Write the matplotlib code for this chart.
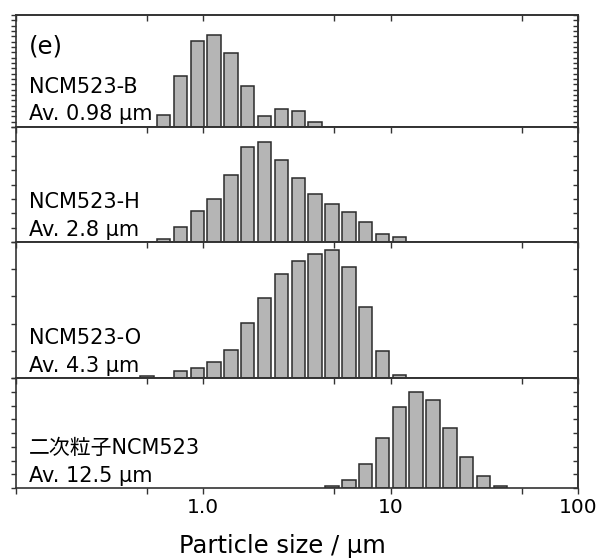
import numpy as np
import matplotlib.pyplot as plt

plt.rcParams['font.family'] = ['DejaVu Sans', 'Noto Sans CJK JP']

# bin centres (um), shared by all four distributions
sizes = [0.50, 0.613, 0.754, 0.928, 1.141, 1.403, 1.726, 2.123, 2.612, 3.212, 3.951,
         4.859, 5.977, 7.352, 9.043, 11.12, 13.68, 16.83, 20.70, 25.46, 31.31, 38.51]

# frequency (%) per bin
freq_b = [0, 2.9, 12.7, 21.5, 22.9, 18.6, 10.2, 2.7, 4.4, 3.9, 1.3,
          0, 0, 0, 0, 0, 0, 0, 0, 0, 0, 0]
freq_h = [0, 0.5, 2.3, 4.8, 6.7, 10.5, 14.8, 15.7, 12.8, 10.0, 7.5,
          5.9, 4.7, 3.1, 1.2, 0.8, 0, 0, 0, 0, 0, 0]
freq_o = [0.23, 0, 0.72, 1.14, 1.79, 3.09, 6.09, 8.79, 11.46, 12.95, 13.67,
          14.13, 12.26, 7.85, 3.0, 0.3, 0, 0, 0, 0, 0, 0]
freq_s = [0, 0, 0, 0, 0, 0, 0, 0, 0, 0, 0,
          0.36, 1.66, 5.23, 10.9, 17.6, 21.0, 19.2, 13.1, 6.74, 2.54, 0.5]

names = ['NCM523-B', 'NCM523-H', 'NCM523-O', '二次粒子NCM523']
averages = ['Av. 0.98 µm', 'Av. 2.8 µm', 'Av. 4.3 µm', 'Av. 12.5 µm']
series = [freq_b, freq_h, freq_o, freq_s]
ymax = [28, 18, 15, 24]
nticks = [21, 8, 5, 8]

# panel edges in pixels (top, bottom)
W, H = 605, 558
tops = [15, 127, 242, 378]
bots = [127, 242, 378, 488]
x0, x1 = 16, 578

sizes = np.array(sizes)
step = np.diff(np.log10(sizes)).mean()
left = sizes * 10 ** (-0.4 * step)
width = sizes * 10 ** (0.4 * step) - left

fig = plt.figure(figsize=(W / 100, H / 100), dpi=100)
spine_c = '#333333'

for i in range(4):
    ax = fig.add_axes([x0 / W, 1 - bots[i] / H, (x1 - x0) / W, (bots[i] - tops[i]) / H])
    ax.set_xscale('log')
    ax.set_xlim(0.1, 100)
    ax.set_ylim(0, ymax[i])

    f = np.array(series[i])
    m = f > 0
    ax.bar(left[m], f[m], width=width[m], align='edge', color='#b5b5b5',
           edgecolor='#2b2b2b', linewidth=1.1, zorder=2)

    for s in ax.spines.values():
        s.set_color(spine_c)
        s.set_linewidth(1.2)

    yt = np.linspace(0, ymax[i], nticks[i] + 1)
    ax.set_yticks(yt)
    ax.tick_params(axis='y', direction='out', length=3.5, width=1, color=spine_c,
                   left=True, right=False, labelleft=False)
    sy = ax.secondary_yaxis('right')
    sy.set_yticks(yt)
    sy.tick_params(axis='y', direction='in', length=3.5, width=1, color=spine_c, labelright=False)
    sy.spines['right'].set_color(spine_c)
    sy.spines['right'].set_linewidth(1.2)

    sx = ax.secondary_xaxis('top')
    sx.set_xticks([0.1, 1, 10, 100])
    sx.set_xticks([0.5, 5, 50], minor=True)
    sx.tick_params(axis='x', which='both', direction='in', length=4.5, width=1,
                   color=spine_c, labeltop=False)
    sx.spines['top'].set_color(spine_c)
    sx.spines['top'].set_linewidth(1.2)

    ax.set_xticks([0.1, 1, 10, 100], ['', '1.0', '10', '100'])
    ax.set_xticks([0.5, 5, 50], minor=True)
    ax.set_xticklabels([], minor=True)
    if i < 3:
        ax.tick_params(axis='x', which='both', bottom=False, labelbottom=False)
    else:
        ax.tick_params(axis='x', which='both', direction='out', length=4.5, width=1,
                       color=spine_c, labelsize=14.5, pad=3)

    ax.annotate(names[i], xy=(0, 0), xycoords='axes fraction', xytext=(9.5, 29),
                textcoords='offset points', va='center', ha='left', fontsize=15)
    ax.annotate(averages[i], xy=(0, 0), xycoords='axes fraction', xytext=(9.5, 9),
                textcoords='offset points', va='center', ha='left', fontsize=15)
    if i == 0:
        ax.annotate('(e)', xy=(0, 1), xycoords='axes fraction', xytext=(9.5, -23),
                    textcoords='offset points', va='center', ha='left', fontsize=17.5)

fig.text(282 / W, 1 - 546 / H, 'Particle size / µm', ha='center', va='center', fontsize=17.5)

fig.savefig('out.png', dpi=100)
